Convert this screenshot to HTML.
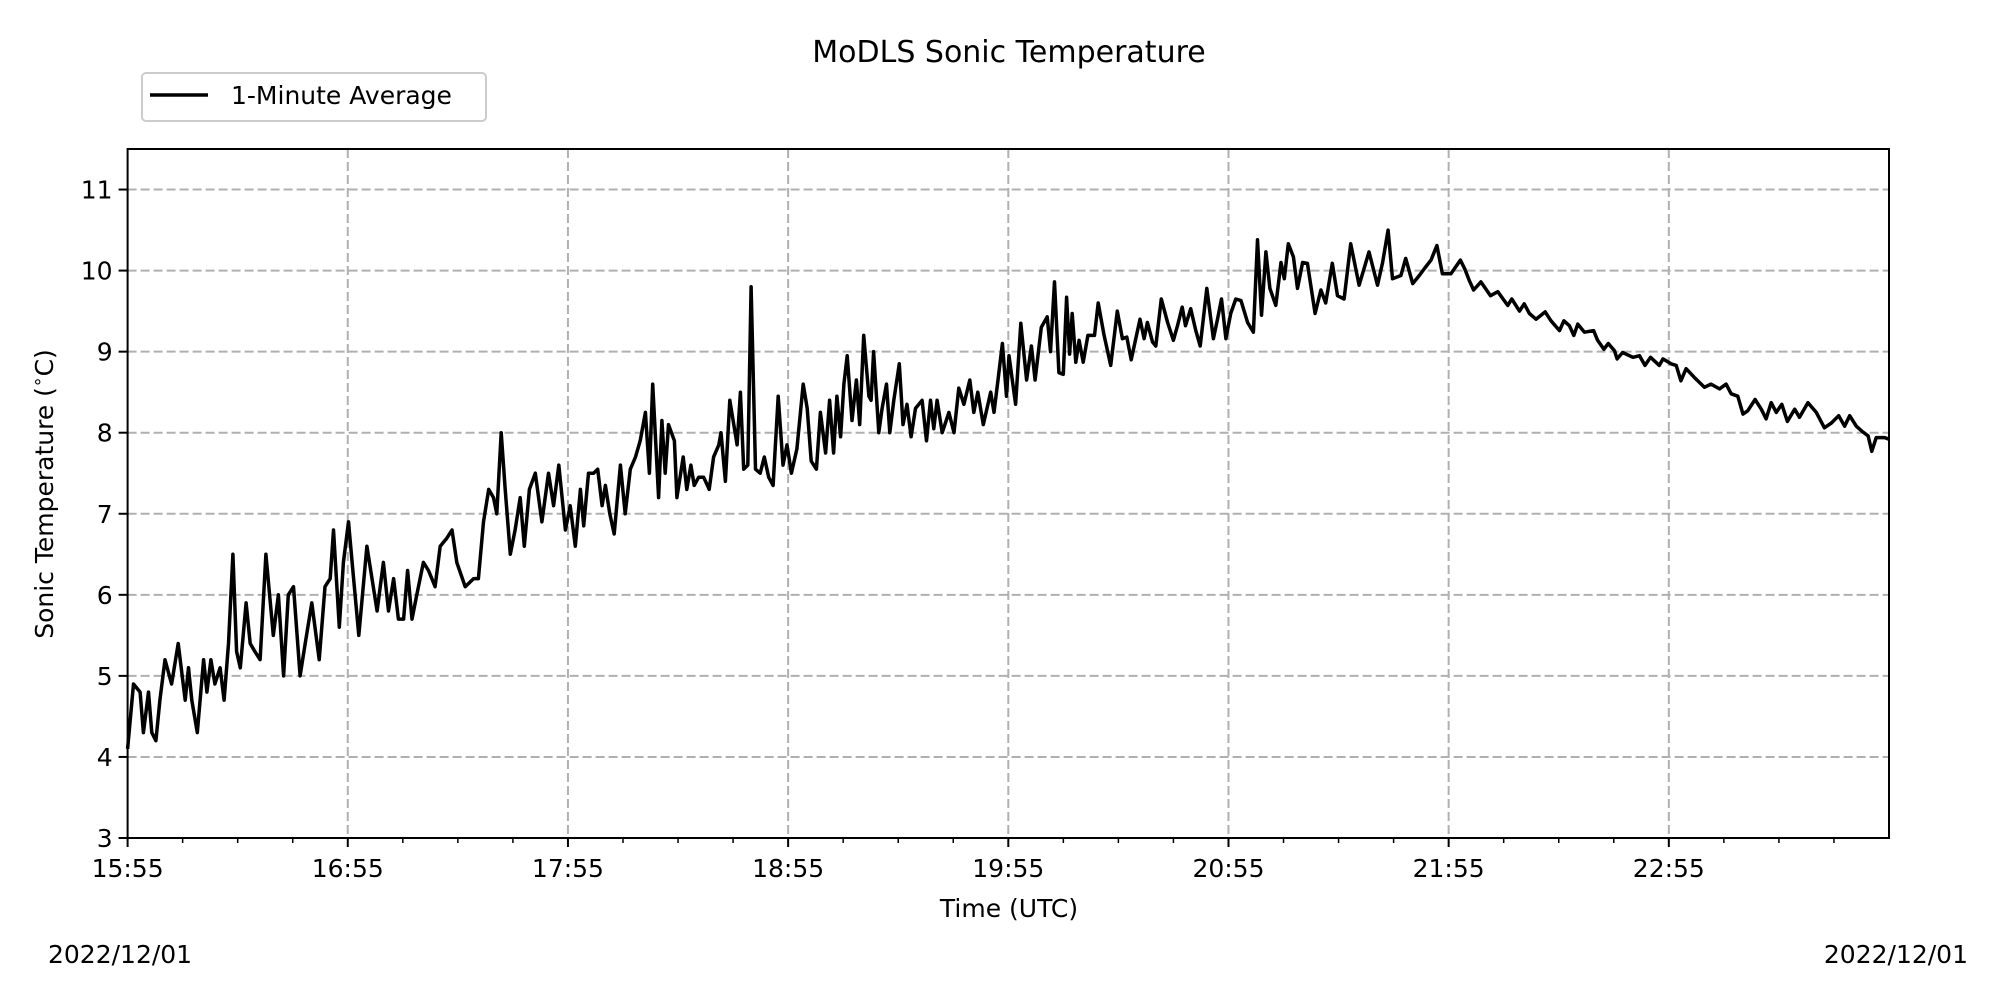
<!DOCTYPE html>
<html><head><meta charset="utf-8"><style>
html,body{margin:0;padding:0;background:#fff;}
svg{display:block;font-family:"DejaVu Sans","Liberation Sans",sans-serif;}
</style></head><body>
<svg id="chart" width="2000" height="1000" viewBox="0 0 2000 1000" xmlns="http://www.w3.org/2000/svg">
<rect width="2000" height="1000" fill="#fff"/>
<text x="1009" y="62" font-size="30" text-anchor="middle">MoDLS Sonic Temperature</text>
<g id="grid"></g>
<g id="series"></g>
<rect x="127.6" y="149" width="1761.4" height="689" fill="none" stroke="#000" stroke-width="2"/>
<g id="axes"></g>
<text transform="translate(53,494) rotate(-90)" font-size="25" text-anchor="middle">Sonic Temperature (<tspan baseline-shift="super" font-size="17">∘</tspan>C)</text>
<text x="1009" y="917" font-size="25" text-anchor="middle">Time (UTC)</text>
<text x="48" y="963" font-size="25">2022/12/01</text>
<text x="1968" y="963" font-size="25" text-anchor="end">2022/12/01</text>
<g>
<rect x="142" y="73" width="344" height="48" rx="4" fill="#fff" stroke="#ccc" stroke-width="2"/>
<line x1="150" y1="95" x2="208" y2="95" stroke="#000" stroke-width="3.5"/>
<text x="231" y="104" font-size="25">1-Minute Average</text>
</g>
</svg>
<script>
const times=[0,1.6,3.4,4.3,5.7,6.6,7.7,8.8,10.2,12,13.8,15.7,16.6,17.5,19,20.7,21.6,22.7,23.8,25.2,26.3,27.5,28.7,29.7,30.7,32.3,33.4,34.7,36.1,37.7,39.7,41.1,42.5,43.8,45.2,47,48.4,50.2,52.2,53.8,55.2,56.1,57.7,58.8,60.2,61.6,63,65.2,66.6,68,69.7,71.1,72.5,73.8,75.2,76.3,77.5,78.8,80.6,82,83.8,85.2,87,88.4,89.7,92,94.3,95.6,97,98.4,99.7,100.6,101.8,102.9,104.3,105.6,107,108.1,109.5,111.1,112.9,114.7,116.1,117.5,119.3,120.6,122,
123.4,124.3,125.6,127,128.1,129.3,130.2,131.4,132.6,134.3,135.6,137,138.4,139.7,141.1,142.2,143.1,144.7,145.6,146.5,147.4,149,149.7,151.4,152.4,153.5,154.4,155.6,157,158.5,159.7,161.1,161.7,162.9,164.1,165.2,166.1,167,167.9,169,169.9,171.1,172.4,173.5,174.7,175.9,177.3,178.6,179.7,180.9,182.4,184.1,185.2,186.3,187.7,188.8,190.2,191.3,192.4,193.3,194.3,195.2,196.1,197.4,198.6,199.5,200.6,202,202.6,203.3,204.7,205.6,206.8,207.7,208.8,210.3,211.3,212.4,213.5,214.7,216.5,217.7,218.8,219.7,220.6,222,223.8,225.2,226.5,227.9,229.5,230.6,231.7,233.2,235.2,236.1,237.2,238.4,239.5,240.2,242,
243.4,245,246.3,247.3,249,250.6,251.5,252.6,253.8,255,255.9,256.7,257.4,258.4,259.3,260.4,261.7,263.5,264.5,266.1,267.9,269.7,271.1,272.3,273.5,275.9,277,277.9,279.3,280.2,281.7,283.4,285,286.1,287.4,288.3,289.7,291.1,292.3,294.1,295.9,297,298.1,299.3,300.6,302,303.4,305.2,306.8,307.9,309,310.2,311.3,312.9,314.3,315.2,316.3,317.7,318.8,320.2,321.5,323.6,325.2,326.5,328.3,329.7,331.5,333.3,335.6,338.3,340.6,342,343.5,344.7,347,348.3,350.2,352,353.3,355.2,356.8,358.3,360.6,
363.2,364.4,365.6,366.8,368.8,371.4,373.4,376.1,377.2,379.3,380.6,382,383.8,386.3,387.9,390.2,391.4,392.9,394.1,395.2,397,399.5,400.6,402.3,403.5,405.2,405.9,407.4,410.2,412,413.5,415,417.4,418.4,420.6,422,423.3,424.7,427,429.7,431.5,433.8,435.6,437,438.8,440.2,441.5,443.5,445.2,446.5,447.9,449.3,450.8,452.3,454.3,455.6,457.9,460.2,462.4,464.3,466.3,467.9,469.3,471.1,472.6,474.3,475.3,476.5,478.8,480];
const temps=[4.1,4.9,4.8,4.3,4.8,4.3,4.2,4.7,5.2,4.9,5.4,4.7,5.1,4.7,4.3,5.2,4.8,5.2,4.9,5.1,4.7,5.4,6.5,5.3,5.1,5.9,5.4,5.3,5.2,6.5,5.5,6.0,5.0,6.0,6.1,5.0,5.4,5.9,5.2,6.1,6.2,6.8,5.6,6.4,6.9,6.2,5.5,6.6,6.2,5.8,6.4,5.8,6.2,5.7,5.7,6.3,5.7,6.0,6.4,6.3,6.1,6.6,6.7,6.8,6.4,6.1,6.2,6.2,6.9,7.3,7.2,7.0,8.0,7.3,6.5,6.8,7.2,6.6,7.3,7.5,6.9,7.5,7.1,7.6,6.8,7.1,6.6,
7.3,6.85,7.5,7.5,7.55,7.1,7.35,7.0,6.75,7.6,7.0,7.55,7.7,7.9,8.25,7.5,8.6,7.2,8.15,7.5,8.1,7.9,7.2,7.7,7.3,7.6,7.35,7.45,7.45,7.3,7.7,7.85,8.0,7.4,8.4,8.1,7.85,8.5,7.55,7.6,9.8,7.55,7.5,7.7,7.45,7.35,8.45,7.6,7.85,7.5,7.8,8.6,8.3,7.65,7.55,8.25,7.75,8.4,7.75,8.45,7.95,8.6,8.95,8.15,8.65,8.1,9.2,8.45,8.4,9.0,8.0,8.3,8.6,8.0,8.4,8.85,8.1,8.35,7.95,8.3,8.4,7.9,8.4,8.05,8.4,8.0,8.25,8.0,8.55,8.35,8.65,8.25,8.5,8.1,8.5,8.25,8.65,9.1,8.45,8.95,8.35,
9.35,8.65,9.07,8.65,9.3,9.43,9.0,9.86,8.74,8.72,9.67,8.97,9.47,8.87,9.14,8.87,9.2,9.2,9.6,9.2,8.83,9.5,9.16,9.18,8.9,9.4,9.16,9.36,9.12,9.07,9.65,9.36,9.14,9.32,9.55,9.32,9.53,9.26,9.07,9.78,9.16,9.4,9.65,9.16,9.47,9.65,9.63,9.36,9.24,10.38,9.45,10.23,9.78,9.57,10.1,9.9,10.33,10.17,9.78,10.1,10.09,9.47,9.76,9.6,10.09,9.69,9.65,10.33,9.82,10.23,9.82,10.1,10.5,9.9,9.94,10.15,9.84,9.94,10.02,10.13,10.31,9.96,9.96,
10.13,10.02,9.88,9.76,9.86,9.69,9.74,9.57,9.65,9.5,9.59,9.47,9.4,9.49,9.38,9.26,9.38,9.32,9.2,9.34,9.24,9.26,9.14,9.03,9.1,9.01,8.91,8.99,8.93,8.95,8.83,8.93,8.83,8.91,8.85,8.83,8.64,8.79,8.68,8.56,8.6,8.54,8.6,8.48,8.45,8.23,8.27,8.41,8.29,8.17,8.37,8.25,8.35,8.14,8.29,8.19,8.37,8.25,8.06,8.12,8.21,8.08,8.21,8.08,8.02,7.96,7.77,7.94,7.94,7.92];
const yTicks=[3,4,5,6,7,8,9,10,11];
const xTickLabels=["15:55","16:55","17:55","18:55","19:55","20:55","21:55","22:55"];
const xTickMinutes=[0,60,120,180,240,300,360,420];

const X0=127.6,X1=1889,Y0=838,Y1=149,TMAX=480,VMIN=3,VMAX=11.5;
function xs(m){return X0+(X1-X0)*m/TMAX;}
function ys(v){return Y0-(Y0-Y1)*(v-VMIN)/(VMAX-VMIN);}
const NS="http://www.w3.org/2000/svg";
function mk(tag,attrs,parent){const e=document.createElementNS(NS,tag);for(const k in attrs)e.setAttribute(k,attrs[k]);parent.appendChild(e);return e;}
const grid=document.getElementById('grid'),axes=document.getElementById('axes'),series=document.getElementById('series');
yTicks.forEach(v=>{
  const y=ys(v);
  if(v>VMIN){const g=mk('line',{x1:X0,x2:X1,y1:y,y2:y,stroke:'#b0b0b0','stroke-width':2,'stroke-dasharray':'9,4'},grid);
  
  }
  const t=mk('line',{x1:X0-9,x2:X0,y1:y,y2:y,stroke:'#000','stroke-width':2},axes);
  
  
  const l=mk('text',{x:X0-15,y:y+9,'font-size':25,'text-anchor':'end'},axes);l.textContent=v;
  
  
});
xTickMinutes.forEach((m,i)=>{
  const x=xs(m);
  if(m>0){const g=mk('line',{x1:x,x2:x,y1:Y1,y2:Y0,stroke:'#b0b0b0','stroke-width':2,'stroke-dasharray':'9,4'},grid);
  
  }
  const t=mk('line',{x1:x,x2:x,y1:Y0,y2:Y0+9,stroke:'#000','stroke-width':2},axes);
  
  
  const l=mk('text',{x:x,y:Y0+39,'font-size':25,'text-anchor':'middle'},axes);l.textContent=xTickLabels[i];
  
  
});
for(let m=15;m<TMAX;m+=15){if(m%60===0)continue;const x=xs(m);
  const t=mk('line',{x1:x,x2:x,y1:Y0,y2:Y0+5,stroke:'#000','stroke-width':1.5},axes);
  
  }
let d='';times.forEach((m,i)=>{d+=(i?'L':'M')+xs(m).toFixed(1)+','+ys(temps[i]).toFixed(1);});
const p=mk('path',{d:d,fill:'none',stroke:'#000','stroke-width':3.5,'stroke-linejoin':'round'},series);


</script>
</body></html>
